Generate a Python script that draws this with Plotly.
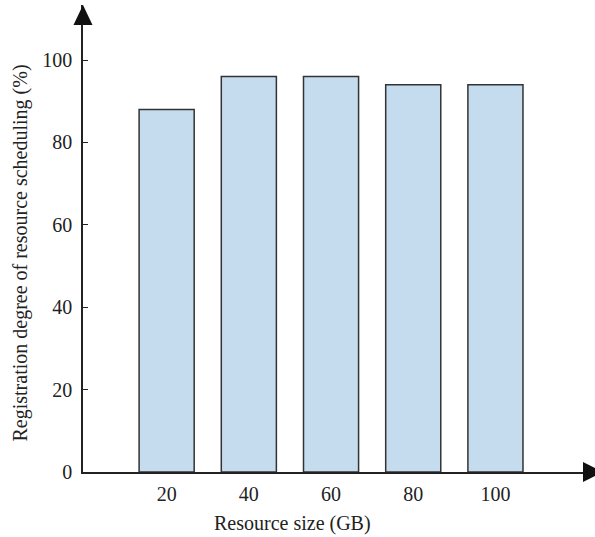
import plotly.graph_objects as go

categories = [20, 40, 60, 80, 100]
values = [88, 96, 96, 94, 94]
tick_labels = ["20", "40", "60", "80", "100"]
y_ticks = [0, 20, 40, 60, 80, 100]

W, H = 595, 537
ml, mr, mt, mb = 83, 5, 5, 65
pw, ph = W - ml - mr, H - mt - mb
xmin = -0.35
xmax = xmin + pw / 4.11
ymax = ph / 4.12

font = dict(family="Liberation Serif, Times New Roman, serif", size=20, color="#222")

fig = go.Figure()
fig.add_trace(go.Bar(
    x=categories, y=values, width=13.4,
    marker=dict(color="#c5dcef", line=dict(color="#333", width=1.5)),
))

# y-axis arrowhead (paper coords)
ya = dict(type="path", xref="paper", yref="paper", fillcolor="#111", line=dict(width=0),
          path=f"M 0 1 L {-9.5/pw:.5f} {1 - 20/ph:.5f} L {9.5/pw:.5f} {1 - 20/ph:.5f} Z")
# x-axis arrowhead (paper coords)
xb = 1 - 7 / pw
xt = 1 + 13 / pw
xa = dict(type="path", xref="paper", yref="paper", fillcolor="#111", line=dict(width=0),
          path=f"M {xt:.5f} 0 L {xb:.5f} {10/ph:.5f} L {xb:.5f} {-10/ph:.5f} Z")

fig.update_layout(
    width=W, height=H,
    margin=dict(l=ml, r=mr, t=mt, b=mb, autoexpand=False),
    paper_bgcolor="white", plot_bgcolor="white",
    showlegend=False,
    font=font,
    shapes=[ya, xa],
    xaxis=dict(range=[xmin, xmax], tickvals=categories, ticktext=tick_labels, automargin=False,
               showline=True, linecolor="#222", linewidth=1.5, showgrid=False, zeroline=False,
               ticks="", ticklabelstandoff=3),
    yaxis=dict(range=[0, ymax], tickvals=y_ticks, showline=True, linecolor="#222", linewidth=1.5,
               automargin=False, showgrid=False, zeroline=False, ticks="inside", ticklen=5,
               tickcolor="#222", ticklabelstandoff=5),
    annotations=[
        dict(text="Resource size (GB)", xref="paper", yref="paper", x=(292.5 - ml) / pw, y=0,
             xanchor="center", yanchor="middle", yshift=-51, showarrow=False, font=font),
        dict(text="Registration degree of resource scheduling (%)", xref="paper", yref="paper",
             x=0, y=(472 - 253.5) / ph, xanchor="center", yanchor="middle", xshift=-63,
             textangle=-90, showarrow=False, font=font),
    ],
)

fig.write_html("out.html", config={"displayModeBar": False},
               post_script="document.body.style.margin='0';")
